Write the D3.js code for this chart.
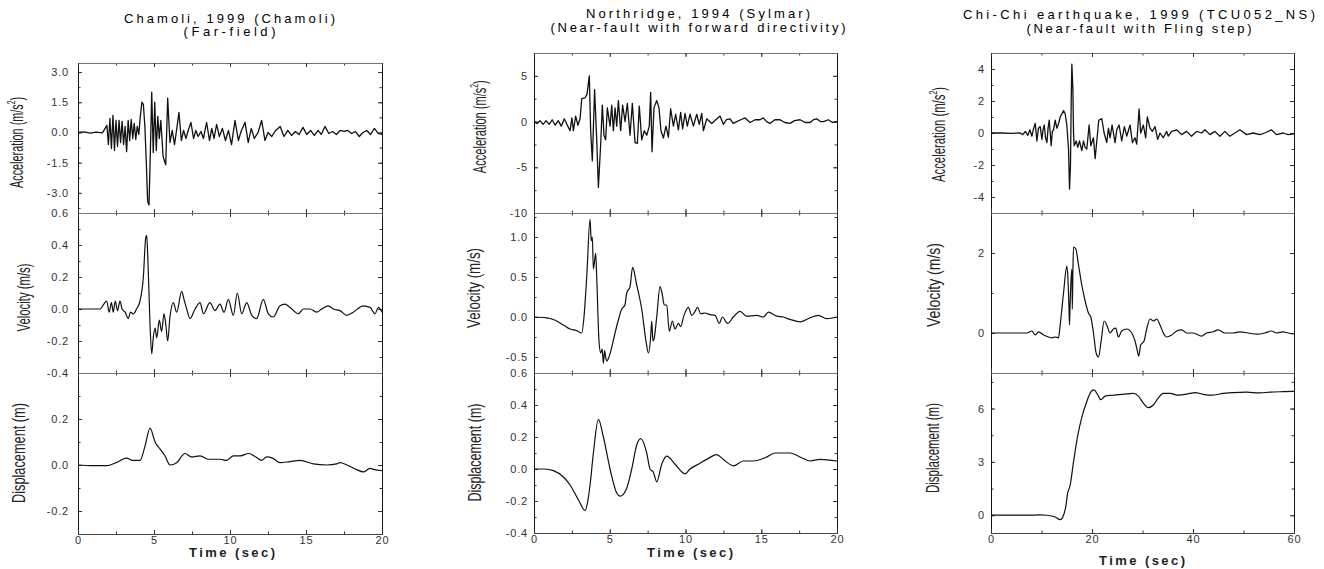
<!DOCTYPE html>
<html>
  <head>
    <meta charset="utf-8" />
    <script src="https://d3js.org/d3.v7.min.js"></script>
    <style>
      body { margin: 0; background: #fff; }
      .tick text { font-family: "Liberation Sans", Arial, sans-serif; font-size: 11px; fill: #333; letter-spacing: 0.8px; }
      .title { font-family: "Liberation Sans", Arial, sans-serif; font-size: 13px; fill: #000; }
      .ylab { font-family: "Liberation Sans Narrow", "Arial Narrow", "Liberation Sans", sans-serif; font-size: 18px; fill: #222; }
      .xlab { font-family: "Liberation Sans", Arial, sans-serif; font-size: 13px; font-weight: bold; fill: #222; }
      .trace { fill: none; stroke: #111; stroke-linejoin: round; }
    </style>
  </head>
  <body>
    <svg id="chart" width="1324" height="569"></svg>
    <script>

// ---- titles / labels
var titles = [
  ["Chamoli, 1999 (Chamoli)", "(Far-field)"],
  ["Northridge, 1994 (Sylmar)", "(Near-fault with forward directivity)"],
  ["Chi-Chi earthquake,  1999 (TCU052_NS)", "(Near-fault with Fling step)"]
];
var rowLabels = ["Acceleration (m/s", "Velocity (m/s)", "Displacement (m)"];
var timeLabel = "Time (sec)";

// ---- tick labels
var time20Ticks = [0, 5, 10, 15, 20];
var time60Ticks = [0, 20, 40, 60];
var chamoliAccTicks = [-3, -1.5, 0, 1.5, 3];
var chamoliVelTicks = [-0.4, -0.2, 0, 0.2, 0.4, 0.6];
var chamoliDispTicks = [-0.2, 0, 0.2];
var northAccTicks = [-10, -5, 0, 5];
var northVelTicks = [-0.5, 0, 0.5, 1.0];
var northDispTicks = [-0.4, -0.2, 0, 0.2, 0.4, 0.6];
var chichiAccTicks = [-4, -2, 0, 2, 4];
var chichiVelTicks = [0, 2];
var chichiDispTicks = [0, 3, 6];

// ---- series, [time (s), value]
var chamoliAcc = [[0,0],[0.4,0.03],[0.8,-0.03],[1.2,0.02],[1.6,-0.02],[1.75,0.15],[1.9,0.35],[2.0,-0.6],[2.1,0.7],[2.2,-0.8],[2.3,0.85],[2.4,-0.9],[2.5,0.6],[2.6,-0.7],[2.7,0.6],[2.8,-0.5],[2.9,0.55],[3.0,-0.6],[3.1,0.3],[3.2,-0.95],[3.3,0.6],[3.4,-0.4],[3.5,0.65],[3.6,-0.3],[3.7,0.45],[3.8,-0.35],[3.9,0.3],[4.0,-0.1],[4.1,0.8],[4.2,1.5],[4.3,1.4],[4.4,0.3],[4.5,-1.6],[4.58,-3.4],[4.67,-3.6],[4.76,-1.0],[4.85,2.0],[4.95,-1.0],[5.05,1.5],[5.15,-0.9],[5.25,0.8],[5.35,-0.3],[5.45,0.6],[5.6,-1.2],[5.77,-1.6],[5.9,1.7],[6.05,-0.5],[6.2,0.1],[6.35,-0.6],[6.5,0.2],[6.64,1.0],[6.8,-0.4],[6.95,0.1],[7.1,-0.3],[7.25,0.1],[7.43,0.5],[7.6,-0.3],[7.75,0.1],[7.9,-0.2],[8.1,0.05],[8.25,-0.3],[8.46,0.5],[8.65,-0.4],[8.8,0.2],[8.95,-0.3],[9.12,0.4],[9.3,-0.2],[9.5,0.2],[9.7,-0.4],[9.9,0.1],[10.1,-0.6],[10.33,0.6],[10.55,-0.4],[10.75,0.1],[10.99,0.5],[11.2,-0.5],[11.4,0.2],[11.6,-0.3],[11.85,0.0],[12.08,0.6],[12.3,-0.4],[12.5,0.0],[12.75,-0.2],[13.0,0.1],[13.3,0.3],[13.55,-0.2],[13.8,0.1],[14.05,-0.15],[14.3,0.05],[14.55,-0.1],[14.8,0.25],[15.05,-0.1],[15.3,0.1],[15.55,-0.15],[15.8,0.1],[16.0,-0.1],[16.25,0.3],[16.5,-0.05],[16.75,0.05],[17.0,-0.1],[17.25,0.1],[17.5,0.05],[17.75,0.1],[18.0,-0.05],[18.25,0.05],[18.5,-0.2],[18.75,0.0],[19.0,0.1],[19.25,-0.1],[19.5,0.2],[19.75,-0.05],[20,-0.1]];
var chamoliVel = [[0,0],[1.45,0.0],[1.7,0.03],[1.89,0.05],[2.05,-0.02],[2.2,0.04],[2.32,-0.02],[2.45,0.05],[2.6,-0.01],[2.76,0.05],[2.9,0.0],[3.1,-0.02],[3.31,-0.06],[3.45,-0.02],[3.64,-0.03],[3.85,0.0],[4.08,0.05],[4.3,0.2],[4.45,0.44],[4.52,0.46],[4.6,0.3],[4.67,0.1],[4.74,-0.1],[4.85,-0.28],[4.95,-0.18],[5.07,-0.12],[5.18,-0.18],[5.35,-0.07],[5.5,-0.14],[5.66,-0.03],[5.78,-0.1],[5.9,-0.2],[6.05,-0.05],[6.27,0.04],[6.49,-0.02],[6.82,0.11],[7.0,0.05],[7.15,0.0],[7.37,-0.06],[7.7,0.0],[8.03,0.04],[8.25,-0.03],[8.68,0.04],[9.01,-0.01],[9.34,0.03],[9.61,-0.02],[9.89,0.06],[10.22,-0.04],[10.48,0.1],[10.77,-0.03],[11.1,0.04],[11.43,-0.04],[11.75,-0.06],[12.19,0.06],[12.52,-0.03],[12.85,-0.05],[13.29,0.02],[13.62,0.03],[13.95,0.01],[14.5,-0.03],[14.82,0.0],[15.26,0.0],[15.7,-0.02],[16.03,0.0],[16.47,0.02],[16.8,0.0],[17.24,-0.01],[17.68,-0.04],[18.11,-0.02],[18.77,0.02],[19.21,0.01],[19.54,-0.03],[19.76,0.01],[20,-0.02]];
var chamoliDisp = [[0,0],[1,-0.003],[1.89,-0.003],[2.5,0.01],[3.2,0.03],[3.6,0.02],[4.08,0.02],[4.4,0.08],[4.74,0.16],[5.07,0.1],[5.39,0.07],[5.72,0.04],[6.05,0.0],[6.49,0.01],[7.04,0.05],[7.48,0.035],[8.03,0.04],[8.57,0.025],[9.34,0.025],[9.78,0.02],[10.22,0.04],[10.7,0.04],[11.21,0.05],[11.7,0.035],[12.08,0.02],[12.41,0.035],[12.8,0.03],[13.29,0.01],[13.95,0.015],[14.61,0.02],[15.48,0.005],[16.36,0.0],[17.02,0.005],[17.24,0.01],[17.7,0.0],[18.33,-0.02],[18.77,-0.03],[19.21,-0.015],[19.5,-0.02],[20,-0.025]];

var northAcc = [[0,0],[0.2,-0.2],[0.4,0.1],[0.6,-0.3],[0.8,0.1],[1.0,-0.3],[1.2,0.2],[1.4,-0.4],[1.6,0.1],[1.8,-0.5],[2.0,0.3],[2.2,-0.4],[2.38,-1.0],[2.5,0.4],[2.6,-1.0],[2.75,0.6],[2.9,-0.4],[3.04,0.3],[3.15,2.5],[3.37,2.6],[3.5,3.0],[3.65,5.0],[3.74,-1.0],[3.85,-4.3],[4.0,3.5],[4.14,-2.0],[4.25,-7.2],[4.4,-2.5],[4.51,1.8],[4.62,-1.5],[4.73,-2.0],[4.84,1.5],[5.02,-0.5],[5.13,1.8],[5.24,-1.0],[5.35,1.5],[5.46,-0.5],[5.57,2.3],[5.72,-1.0],[5.85,1.8],[6.01,0.0],[6.16,2.0],[6.34,-1.5],[6.49,2.0],[6.67,-2.3],[6.82,-2.4],[6.95,1.7],[7.11,-2.0],[7.28,-1.0],[7.44,-1.5],[7.61,-0.5],[7.7,3.2],[7.79,-3.3],[7.92,1.5],[8.1,2.3],[8.25,1.5],[8.38,-1.0],[8.54,-1.8],[8.71,-0.5],[8.87,-1.7],[9.02,1.4],[9.2,-0.5],[9.35,0.8],[9.53,-0.9],[9.68,1.0],[9.81,-0.8],[9.97,0.9],[10.12,-0.5],[10.3,0.8],[10.52,-0.5],[10.74,0.8],[10.91,-0.3],[11.07,0.9],[11.18,-1.0],[11.4,0.3],[11.73,-0.2],[12.0,0.2],[12.28,0.6],[12.5,-0.3],[12.7,0.2],[12.94,0.3],[13.15,-0.2],[13.38,0.0],[13.65,0.2],[13.93,0.4],[14.26,-0.1],[14.6,0.2],[14.92,0.2],[15.14,0.4],[15.35,0.0],[15.58,-0.2],[15.9,0.2],[16.24,0.2],[16.55,-0.1],[16.9,-0.2],[17.2,0.1],[17.56,0.2],[17.9,-0.1],[18.22,-0.1],[18.45,0.2],[18.66,0.3],[18.9,0.0],[19.1,0.0],[19.43,0.2],[19.7,-0.1],[20,0.0]];
var northVel = [[0,0],[0.84,-0.01],[1.4,-0.04],[1.94,-0.1],[2.38,-0.15],[2.82,-0.17],[3.15,-0.2],[3.3,0.0],[3.48,0.5],[3.7,1.22],[3.78,0.95],[3.85,1.0],[3.92,0.6],[4.0,0.7],[4.07,0.8],[4.14,0.5],[4.29,-0.3],[4.4,-0.45],[4.5,-0.4],[4.58,-0.58],[4.66,-0.42],[4.73,-0.5],[4.82,-0.55],[4.91,-0.52],[5.13,-0.38],[5.35,-0.2],[5.55,-0.05],[5.79,0.1],[6.0,0.15],[6.12,0.3],[6.34,0.38],[6.51,0.62],[6.78,0.4],[7.11,0.1],[7.39,-0.3],[7.55,-0.45],[7.7,-0.25],[7.77,-0.05],[7.85,-0.3],[7.92,-0.28],[8.1,0.0],[8.32,0.38],[8.45,0.3],[8.6,0.15],[8.76,0.15],[8.93,-0.18],[9.13,-0.05],[9.31,-0.15],[9.53,-0.08],[9.68,-0.12],[9.9,0.02],[10.19,0.12],[10.41,0.02],[10.6,0.06],[10.8,0.12],[11.0,0.04],[11.29,0.05],[11.62,0.03],[11.95,0.02],[12.23,-0.08],[12.43,0.0],[12.78,-0.08],[13.16,0.0],[13.6,0.07],[14.04,0.01],[14.7,0.02],[15.14,0.0],[15.47,0.06],[16.02,0.01],[16.46,0.0],[16.9,-0.03],[17.6,-0.06],[18.22,-0.01],[18.77,0.02],[19.32,-0.02],[20,0.0]];
var northDisp = [[0,0],[0.7,0.0],[1.28,-0.01],[1.94,-0.05],[2.38,-0.1],[2.97,-0.2],[3.37,-0.26],[3.55,-0.2],[3.7,-0.1],[3.92,0.1],[4.25,0.31],[4.58,0.2],[5.02,0.0],[5.46,-0.15],[5.68,-0.17],[6.12,-0.12],[6.45,0.0],[6.78,0.15],[7.04,0.19],[7.44,0.1],[7.66,0.0],[7.88,-0.02],[8.1,-0.08],[8.43,0.03],[8.76,0.08],[9.31,0.03],[9.97,-0.03],[10.3,0.0],[10.85,0.03],[11.4,0.06],[12.06,0.09],[12.5,0.06],[13.16,0.02],[13.82,0.05],[14.48,0.05],[15.25,0.07],[15.91,0.1],[16.9,0.1],[17.67,0.07],[18.22,0.05],[18.88,0.06],[20,0.05]];

var chichiAcc = [[0,0],[2,0.0],[4,-0.02],[5.8,0.0],[6.3,-0.1],[6.8,0.1],[7.3,-0.15],[7.7,0.2],[8.1,-0.2],[8.45,0.3],[8.76,0.6],[9.09,-0.5],[9.4,0.3],[9.75,0.4],[10.08,-0.4],[10.3,0.2],[10.54,0.5],[10.8,-0.3],[11.07,-0.6],[11.3,0.3],[11.53,0.8],[11.92,-0.8],[12.15,0.1],[12.38,0.2],[12.71,0.8],[13.04,0.3],[13.4,0.6],[13.7,1.0],[14.36,1.4],[14.69,1.2],[15.02,0.5],[15.35,-1.0],[15.55,-3.5],[15.74,-2.0],[15.88,2.0],[16.01,4.3],[16.21,2.8],[16.34,0.0],[16.47,-0.8],[16.86,-0.5],[17.19,-0.9],[17.52,-0.5],[17.98,-1.1],[18.31,-0.5],[18.64,-0.9],[18.97,-1.0],[19.43,0.5],[19.76,-0.8],[20.29,-0.3],[20.62,-1.6],[20.95,-0.5],[21.34,0.8],[21.94,0.9],[22.4,0.0],[22.92,-0.6],[23.25,0.3],[23.58,-0.3],[23.98,0.5],[24.57,-0.6],[24.9,0.2],[25.36,0.5],[25.89,-0.5],[26.42,0.4],[26.88,-0.2],[27.54,0.5],[28.0,-0.6],[28.52,-0.3],[28.85,-0.7],[29.32,1.5],[29.64,0.0],[30.17,0.5],[30.63,-0.3],[30.96,1.0],[31.49,0.3],[31.95,0.1],[32.48,0.4],[33.0,-0.4],[33.47,0.0],[34.12,-0.3],[34.78,0.1],[35.11,-0.2],[35.77,0.1],[36.76,0.2],[37.75,-0.1],[38.74,0.1],[39.72,-0.2],[40.71,0.1],[41.7,0.0],[42.36,0.2],[43.35,-0.1],[44.34,0.1],[45.32,-0.2],[46.31,0.1],[47.3,-0.2],[48.29,0.0],[49.28,0.2],[50.59,-0.1],[51.91,0.0],[53.23,-0.1],[54.22,0.0],[55.53,0.2],[56.52,-0.1],[57.84,0.0],[58.83,-0.1],[60,-0.05]];
var chichiVel = [[0,0],[7.11,0.0],[8.1,0.05],[8.76,-0.05],[9.42,0.03],[10.41,-0.05],[11.4,-0.1],[12.06,-0.12],[12.71,-0.1],[13.37,-0.12],[13.7,0.2],[14.36,1.0],[15.02,1.67],[15.22,1.4],[15.45,0.6],[15.55,0.2],[15.68,0.8],[16.01,1.6],[16.1,0.6],[16.21,1.5],[16.34,2.15],[16.8,2.1],[17.33,1.7],[17.98,1.2],[18.64,0.8],[19.3,0.5],[19.76,0.4],[20.29,0.0],[20.82,-0.5],[21.28,-0.6],[21.81,-0.2],[22.4,0.3],[22.92,0.2],[23.58,0.0],[24.24,0.1],[24.7,0.12],[25.23,-0.1],[25.89,0.05],[26.88,0.1],[27.87,0.0],[28.52,-0.2],[28.99,-0.45],[29.25,-0.58],[29.64,-0.3],[30.3,-0.2],[30.83,0.1],[31.49,0.35],[32.2,0.3],[32.81,0.35],[33.47,0.2],[34.12,0.0],[34.78,-0.1],[35.77,-0.05],[36.76,0.05],[37.75,0.08],[38.74,0.0],[40.05,0.0],[41.7,-0.08],[42.69,0.0],[44.01,0.03],[45.0,0.08],[46.31,0.0],[47.96,0.0],[49.28,0.03],[50.92,0.0],[52.57,-0.03],[54.22,0.0],[55.53,0.05],[56.52,0.0],[57.84,0.03],[58.83,0.0],[60,-0.02]];
var chichiDisp = [[0,0],[7.11,0.0],[9.75,0.02],[11.07,0.0],[12.71,-0.1],[13.7,-0.25],[14.36,0.0],[14.82,0.5],[15.15,1.2],[15.68,1.7],[16.34,3.0],[17.19,4.5],[17.98,5.5],[18.97,6.4],[19.96,7.0],[20.42,7.05],[21.08,6.8],[21.74,6.5],[22.6,6.7],[24.24,6.75],[25.89,6.8],[28.19,6.85],[29.18,6.7],[30.17,6.3],[31.16,6.05],[32.15,6.2],[33.14,6.6],[34.12,6.85],[35.44,6.85],[37.09,6.75],[39.39,6.85],[40.38,6.9],[42.03,6.8],[43.68,6.75],[45.98,6.85],[47.96,6.9],[50.59,6.92],[53.23,6.88],[55.2,6.92],[57.84,6.95],[60,6.97]];

// ---- layout of the three columns (pixels)
var columns = [
  { left: 78, right: 382, rows: [63, 213, 373, 534], pad: 9, xDomain: [0, 20], xTicks: time20Ticks, xMinor: 2.5,
    titleX: 229.5, titleY: [22.7, 36], titleW: [211, 92], xLabX: 232, xLabY: 557,
    series: [chamoliAcc, chamoliVel, chamoliDisp],
    yDomains: [[-4, 3.45], [-0.4, 0.6], [-0.3, 0.4]],
    yTicks: [chamoliAccTicks, chamoliVelTicks, chamoliDispTicks], yMinor: [0.75, 0.1, 0.1], yFmt: [".1f", ".1f", ".1f"],
    labs: [[23, 142.5, 91], [30, 297.5, 68], [25, 453, 100]] },
  { left: 534, right: 837, rows: [53, 213, 373, 533], pad: 6, xDomain: [0, 20], xTicks: time20Ticks, xMinor: 2.5,
    titleX: 698, titleY: [18.3, 31.7], titleW: [224, 295], xLabX: 690, xLabY: 557,
    series: [northAcc, northVel, northDisp],
    yDomains: [[-10, 7.5], [-0.7, 1.3], [-0.4, 0.6]],
    yTicks: [northAccTicks, northVelTicks, northDispTicks], yMinor: [2.5, 0.25, 0.1], yFmt: ["d", ".1f", ".1f"],
    labs: [[486, 126.7, 93], [480, 288, 80], [481, 452.5, 98]] },
  { left: 991, right: 1294, rows: [53, 213, 373, 533], pad: 6, xDomain: [0, 60], xTicks: time60Ticks, xMinor: 10,
    titleX: 1139, titleY: [19.3, 33.3], titleW: [352, 225], xLabX: 1142, xLabY: 565,
    series: [chichiAcc, chichiVel, chichiDisp],
    yDomains: [[-5, 5], [-1, 3], [-1, 8]],
    yTicks: [chichiAccTicks, chichiVelTicks, chichiDispTicks], yMinor: [1, 1, 1.5], yFmt: ["d", "d", "d"],
    labs: [[945, 134.5, 95], [940, 285, 84], [939, 448, 90]] }
];

var svg = d3.select("#chart");

function minorVals(domain, step) {
  var out = [];
  var start = Math.ceil(domain[0] / step - 1e-9);
  for (var k = start; k * step <= domain[1] + 1e-9; k++) out.push(+(k * step).toFixed(4));
  return out;
}

function styleAxis(g, color) {
  g.selectAll(".tick line").attr("stroke", "#333");
  g.select(".domain").attr("stroke", color);
}

columns.forEach(function(col, ci) {
  var x = d3.scaleLinear().domain(col.xDomain).range([col.left, col.right]);
  var xMinorTicks = minorVals(col.xDomain, col.xMinor);

  // titles
  titles[ci].forEach(function(t, li) {
    svg.append("text").attr("class", "title")
      .attr("x", col.titleX).attr("y", col.titleY[li])
      .attr("text-anchor", "middle")
      .attr("textLength", col.titleW[li]).attr("lengthAdjust", "spacing")
      .text(t);
  });

  for (var r = 0; r < 3; r++) {
    var top = col.rows[r], bottom = col.rows[r + 1];
    var y = d3.scaleLinear().domain(col.yDomains[r]).range([bottom, top]);
    var yMinorTicks = minorVals(col.yDomains[r], col.yMinor[r]);
    var g = svg.append("g");

    // minor ticks, all four sides, inward
    g.append("g").attr("transform", "translate(" + col.left + ",0)")
      .call(d3.axisLeft(y).tickValues(yMinorTicks).tickSize(-2.5).tickSizeOuter(0).tickFormat(""))
      .call(styleAxis, "#111");
    g.append("g").attr("transform", "translate(" + col.right + ",0)")
      .call(d3.axisRight(y).tickValues(yMinorTicks).tickSize(-2.5).tickSizeOuter(0).tickFormat(""))
      .call(styleAxis, "#111");
    g.append("g").attr("transform", "translate(0," + top + ")")
      .call(d3.axisTop(x).tickValues(xMinorTicks).tickSize(-2.5).tickSizeOuter(0).tickFormat(""))
      .call(styleAxis, "#777");
    g.append("g").attr("transform", "translate(0," + bottom + ")")
      .call(d3.axisBottom(x).tickValues(xMinorTicks).tickSize(-2.5).tickSizeOuter(0).tickFormat(""))
      .call(styleAxis, r === 2 ? "#444" : "#777");

    // major ticks
    g.append("g").attr("transform", "translate(" + col.left + ",0)")
      .call(d3.axisLeft(y).tickValues(col.yTicks[r]).tickSize(-4).tickSizeOuter(0)
        .tickPadding(col.pad).tickFormat(d3.format(col.yFmt[r])))
      .call(styleAxis, "#111")
      .call(function(a) { a.selectAll("text").text(function(d) { return d3.format(col.yFmt[r])(d).replace("\u2212", "-"); }); });
    g.append("g").attr("transform", "translate(" + col.right + ",0)")
      .call(d3.axisRight(y).tickValues(col.yTicks[r]).tickSize(-4).tickSizeOuter(0).tickFormat(""))
      .call(styleAxis, "#111");
    g.append("g").attr("transform", "translate(0," + top + ")")
      .call(d3.axisTop(x).tickValues(col.xTicks).tickSize(-4).tickSizeOuter(0).tickFormat(""))
      .call(styleAxis, "#777");
    var bx = g.append("g").attr("transform", "translate(0," + bottom + ")")
      .call(d3.axisBottom(x).tickValues(col.xTicks).tickSize(-4).tickSizeOuter(0).tickPadding(2)
        .tickFormat(r === 2 ? d3.format("d") : ""))
      .call(styleAxis, r === 2 ? "#444" : "#777");
    if (r === 2) bx.selectAll("text").attr("letter-spacing", "1.2px");

    // trace
    var line = d3.line()
      .x(function(d) { return x(d[0]); })
      .y(function(d) { return y(d[1]); })
      .curve(r === 0 ? d3.curveLinear : d3.curveMonotoneX);
    g.append("path").attr("class", "trace")
      .attr("stroke-width", r === 0 ? 1.3 : 1.2)
      .attr("d", line(col.series[r]));

    // row label, rotated
    var lab = col.labs[r];
    var t = svg.append("text").attr("class", "ylab")
      .attr("transform", "translate(" + lab[0] + "," + lab[1] + ") rotate(-90)")
      .attr("text-anchor", "middle")
      .attr("textLength", lab[2]).attr("lengthAdjust", "spacingAndGlyphs");
    if (r === 0) {
      t.append("tspan").text(rowLabels[0]);
      t.append("tspan").attr("font-size", "11px").attr("dy", "-8").text("2");
      t.append("tspan").attr("dy", "8").text(")");
    } else {
      t.text(rowLabels[r]);
    }
  }

  svg.append("text").attr("class", "xlab")
    .attr("x", col.xLabX).attr("y", col.xLabY)
    .attr("text-anchor", "middle")
    .attr("textLength", 86).attr("lengthAdjust", "spacing")
    .text(timeLabel);
});

    </script>
  </body>
</html>
